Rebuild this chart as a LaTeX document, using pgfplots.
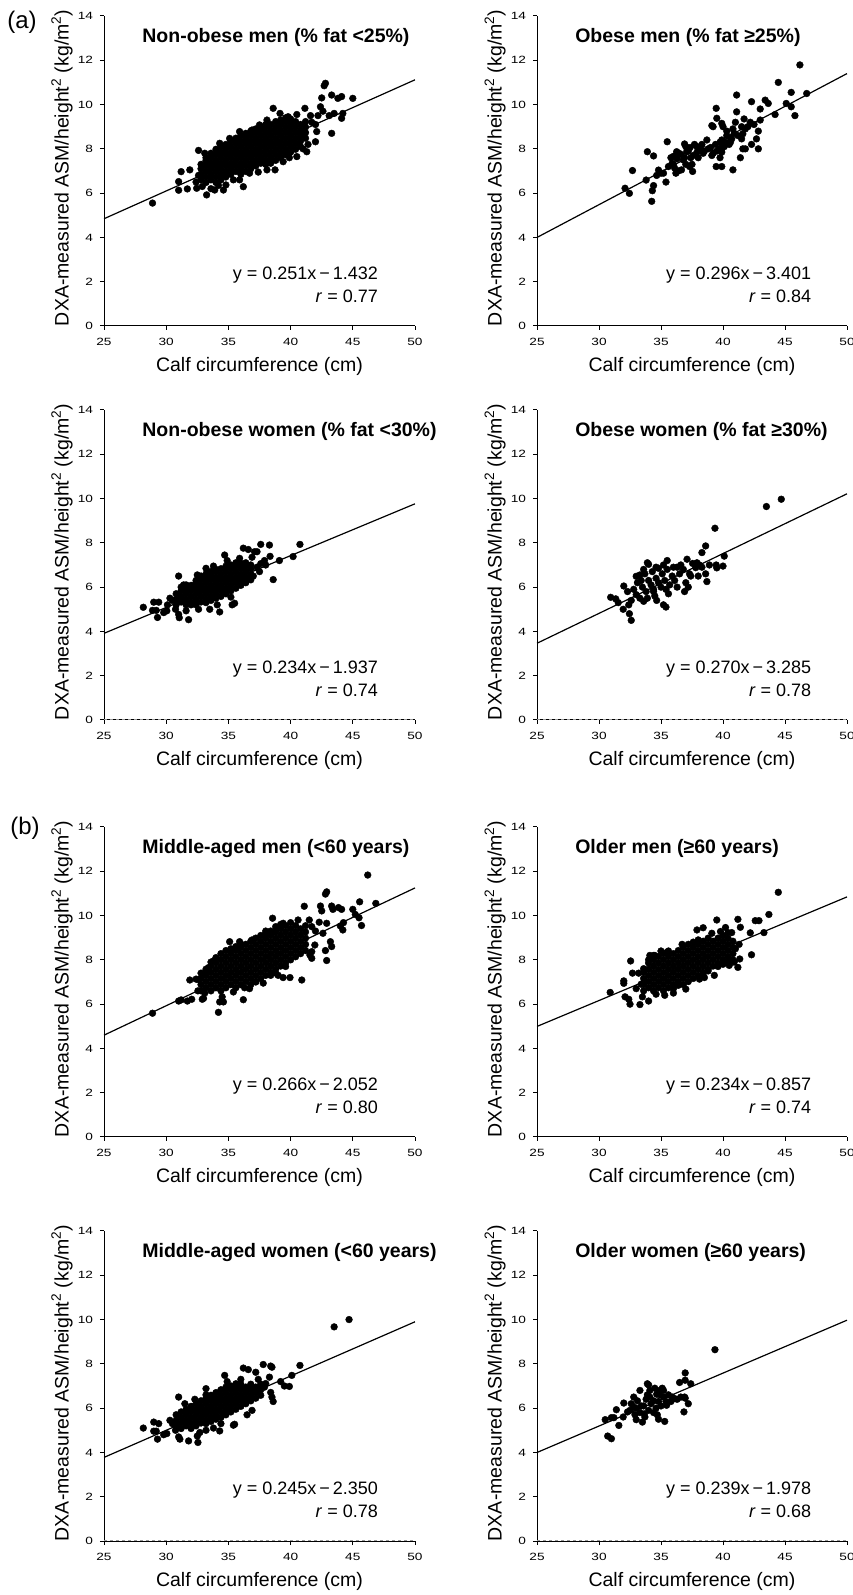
\documentclass[border=0pt]{standalone}
\usepackage{fontspec}
\setmainfont{Liberation Sans}
\newfontfamily\tickfont[FakeStretch=1.3]{Liberation Sans}
\usepackage{pgfplots}
\pgfplotsset{compat=1.18}

\pgfplotsset{
  panel/.style={
    width=311pt, height=310pt, scale only axis,
    xmin=25, xmax=50, ymin=0, ymax=14,
    axis x line=bottom, axis y line=left,
    axis line style={-, line width=1pt},
    xtick={25,30,35,40,45,50}, ytick={0,2,4,6,8,10,12,14},
    tick align=outside, major tick length=4pt,
    every tick/.style={black, line width=1pt},
    /pgf/number format/assume math mode=true,
    tick label style={font=\tickfont\fontsize{10.5}{10.5}\selectfont},
    yticklabel style={xshift=-3.5pt},
    xticklabel style={yshift=-5pt},
    xlabel={Calf circumference (cm)},
    ylabel={DXA-measured ASM/height\textsuperscript{2} (kg/m\textsuperscript{2})},
    label style={font=\fontsize{19.5}{20}\selectfont},
    xlabel style={at={(axis description cs:0.5,-0.132)}, anchor=center},
    ylabel style={at={(axis description cs:-0.135,0.51)}, anchor=center},
    clip=false,
  },
  dots/.style={only marks, mark=*, mark size=3.4pt, black, mark options={fill=black, draw=black}},
  fit/.style={black, line width=1.2pt, no marks},
  zero/.style={gray!80, dashed, line width=1pt, no marks},
}
\newcommand{\ttl}[1]{\node[anchor=base west, font=\bfseries\fontsize{19.5}{20}\selectfont] at (axis cs:27.8,12.8) {#1};}
\newcommand{\eqn}[3]{%
  \node[anchor=base east, font=\fontsize{18}{20}\selectfont] at (axis cs:#3,2.08) {y = #1};
  \node[anchor=base east, font=\fontsize{18}{20}\selectfont] at (axis cs:#3,1.08) {\textit{r} = #2};}

\begin{document}
\begin{tikzpicture}
\useasboundingbox (0,0) rectangle (852pt,1595pt);
\node[font=\fontsize{24}{24}\selectfont] at (22pt,1573pt) {(a)};
\node[font=\fontsize{24}{24}\selectfont] at (25pt,767pt) {(b)};

% ---- Non-obese men
\begin{axis}[panel, at={(104pt,1269pt)}, anchor=south west]
\addplot[dots] coordinates {
(32.8,6.6)(32.8,6.85)(32.8,7.1)(32.8,7.3)
(33.2,6.48)(33.2,6.73)(33.2,6.98)(33.2,7.23)(33.2,7.48)(33.2,7.6)
(33.6,6.6)(33.6,6.85)(33.6,7.1)(33.6,7.35)(33.6,7.6)(33.6,7.8)
(34.0,6.48)(34.0,6.73)(34.0,6.98)(34.0,7.23)(34.0,7.48)(34.0,7.73)(34.0,7.98)
(34.4,6.6)(34.4,6.85)(34.4,7.1)(34.4,7.35)(34.4,7.6)(34.4,7.85)(34.4,8.1)
(34.8,6.73)(34.8,6.98)(34.8,7.23)(34.8,7.48)(34.8,7.73)(34.8,7.98)(34.8,8.2)
(35.2,6.85)(35.2,7.1)(35.2,7.35)(35.2,7.6)(35.2,7.85)(35.2,8.1)(35.2,8.35)
(35.6,6.98)(35.6,7.23)(35.6,7.48)(35.6,7.73)(35.6,7.98)(35.6,8.23)(35.6,8.48)
(36.0,6.85)(36.0,7.1)(36.0,7.35)(36.0,7.6)(36.0,7.85)(36.0,8.1)(36.0,8.35)(36.0,8.6)
(36.4,6.98)(36.4,7.23)(36.4,7.48)(36.4,7.73)(36.4,7.98)(36.4,8.23)(36.4,8.48)(36.4,8.7)
(36.8,7.1)(36.8,7.35)(36.8,7.6)(36.8,7.85)(36.8,8.1)(36.8,8.35)(36.8,8.6)(36.8,8.8)
(37.2,7.23)(37.2,7.48)(37.2,7.73)(37.2,7.98)(37.2,8.23)(37.2,8.48)(37.2,8.73)(37.2,8.9)
(37.6,7.35)(37.6,7.6)(37.6,7.85)(37.6,8.1)(37.6,8.35)(37.6,8.6)(37.6,8.85)(37.6,9.0)
(38.0,7.3)(38.0,7.48)(38.0,7.73)(38.0,7.98)(38.0,8.23)(38.0,8.48)(38.0,8.73)(38.0,8.98)(38.0,9.1)
(38.4,7.35)(38.4,7.6)(38.4,7.85)(38.4,8.1)(38.4,8.35)(38.4,8.6)(38.4,8.85)(38.4,9.1)
(38.8,7.48)(38.8,7.73)(38.8,7.98)(38.8,8.23)(38.8,8.48)(38.8,8.73)(38.8,8.98)(38.8,9.23)
(39.2,7.6)(39.2,7.85)(39.2,8.1)(39.2,8.35)(39.2,8.6)(39.2,8.85)(39.2,9.1)(39.2,9.3)
(39.6,7.73)(39.6,7.98)(39.6,8.23)(39.6,8.48)(39.6,8.73)(39.6,8.98)(39.6,9.23)(39.6,9.4)
(40.0,7.85)(40.0,8.1)(40.0,8.35)(40.0,8.6)(40.0,8.85)(40.0,9.1)(40.0,9.35)
(40.4,7.98)(40.4,8.23)(40.4,8.48)(40.4,8.73)(40.4,8.98)(40.4,9.23)
(40.8,8.1)(40.8,8.35)(40.8,8.6)(40.8,8.85)(40.8,9.1)
(41.2,8.48)(41.2,8.73)(41.2,8.98)(41.2,9.23)
(28.9,5.55)(31.0,6.52)(31.0,6.13)(31.7,6.19)(31.9,7.05)(31.2,6.97)(32.6,7.93)(32.45,6.22)
(32.4,6.5)(32.6,6.8)(32.9,6.3)(33.25,5.92)(33.6,6.2)(33.9,6.14)(34.6,6.14)(34.8,6.37)
(35.4,6.6)(36.2,6.29)(36.7,6.9)(38.1,7.05)(38.75,7.05)(39.4,7.42)(40.5,7.65)(41.3,7.87)
(42.0,8.32)(42.1,8.78)(43.3,8.7)(44.1,9.38)(44.2,9.6)(45.0,10.28)(44.1,10.36)(43.8,10.28)
(43.3,10.43)(42.8,10.96)(42.7,10.85)(42.5,10.3)(42.4,9.9)(42.2,9.5)(42.6,9.7)(43.1,9.5)
(43.5,9.6)(41.15,9.83)(41.6,9.5)(42.0,9.1)(41.7,9.2)(39.8,9.45)(39.15,9.6)(38.6,9.83)
(38.1,9.3)(37.5,9.08)(36.9,8.85)(35.9,8.78)(35.1,8.47)(34.3,8.25)(33.1,7.8)(40.5,9.55)
(41.4,8.2)(41.0,8.0)(39.9,7.6)(37.4,6.95)(35.9,6.6)(34.2,6.35)
};
\addplot[fit] coordinates {(25,4.843) (50,11.118)};
\ttl{Non-obese men (\% fat <25\%)}
\eqn{0.251x\,−\,1.432}{0.77}{47.3}
\end{axis}

% ---- Obese men
\begin{axis}[panel, width=310pt, at={(537pt,1269pt)}, anchor=south west]
\addplot[dots] coordinates {
(32.1,6.22)(32.45,5.99)(32.7,7.02)(33.9,7.87)(33.8,6.59)(34.4,7.68)(34.25,5.63)(34.3,6.11)
(34.4,6.34)(34.8,7.04)(34.65,6.8)(35.5,8.32)(35.4,6.5)(35.2,6.9)(35.9,7.35)(36.0,7.66)
(36.1,7.13)(36.26,7.87)(36.45,7.8)(36.8,7.5)(36.65,7.05)(36.9,8.22)(37.07,7.87)(37.4,7.6)
(37.5,7.3)(37.55,6.98)(37.35,8.06)(37.9,8.1)(38.1,7.95)(38.4,7.8)(38.7,8.4)(39.0,8.06)
(39.2,7.8)(39.5,7.9)(39.2,9.0)(39.45,9.83)(39.5,9.38)(39.1,9.05)(39.45,7.2)(39.9,7.2)
(39.76,7.6)(39.76,8.3)(39.9,8.0)(40.0,8.15)(39.9,9.15)(40.0,9.0)(40.3,8.6)(40.6,8.3)
(40.7,8.45)(40.8,7.05)(41.1,10.43)(41.1,9.67)(41.4,7.6)(41.5,8.45)(41.6,8.68)(41.7,9.35)
(41.6,8.0)(41.8,8.0)(42.0,9.0)(42.3,10.13)(42.3,8.2)(42.7,8.45)(42.85,8.0)(43.0,9.8)
(43.0,9.3)(42.85,8.8)(43.4,10.2)(43.65,10.05)(44.2,9.55)(44.46,11.0)(45.1,10.05)(45.5,10.55)
(45.5,9.9)(45.8,9.5)(46.2,11.79)(46.75,10.5)
(36.0,7.3)(36.3,7.55)(36.6,7.75)(36.9,7.6)(37.2,7.9)(37.0,8.1)(37.6,7.7)(37.7,8.2)
(38.2,8.1)(38.5,7.9)(38.8,8.0)(39.1,7.7)(39.4,8.2)(39.7,8.0)(39.9,8.4)(40.2,8.3)
(40.3,8.8)(40.6,8.5)(40.9,8.7)(41.2,8.6)(41.5,9.0)(41.8,8.9)(42.2,9.2)(42.5,9.1)
(36.4,7.0)(36.2,6.9)(35.8,7.6)(35.6,7.2)(35.0,6.9)(37.3,7.2)(38.0,7.6)(37.9,7.85)
(39.9,7.85)(40.1,8.1)(40.5,8.2)(40.8,8.9)(41.0,9.2)(38.3,8.2)(37.0,7.3)
};
\addplot[fit] coordinates {(25,3.999) (50,11.399)};
\ttl{Obese men (\% fat ≥25\%)}
\eqn{0.296x\,−\,3.401}{0.84}{47.4}
\end{axis}

% ---- Non-obese women
\begin{axis}[panel, at={(104pt,875pt)}, anchor=south west]
\addplot[zero] coordinates {(25,0.03) (50,0.03)};
\addplot[dots] coordinates {
(30.8,5.2)(30.8,5.45)(30.8,5.7)
(31.2,5.33)(31.2,5.58)(31.2,5.83)(31.2,6.0)
(31.6,5.2)(31.6,5.45)(31.6,5.7)(31.6,5.95)(31.6,6.1)
(32.0,5.2)(32.0,5.33)(32.0,5.58)(32.0,5.83)(32.0,6.08)
(32.4,5.2)(32.4,5.45)(32.4,5.7)(32.4,5.95)(32.4,6.2)(32.4,6.3)
(32.8,5.33)(32.8,5.58)(32.8,5.83)(32.8,6.08)(32.8,6.33)(32.8,6.5)
(33.2,5.3)(33.2,5.45)(33.2,5.7)(33.2,5.95)(33.2,6.2)(33.2,6.45)(33.2,6.6)
(33.6,5.4)(33.6,5.58)(33.6,5.83)(33.6,6.08)(33.6,6.33)(33.6,6.58)(33.6,6.7)
(34.0,5.5)(34.0,5.7)(34.0,5.95)(34.0,6.2)(34.0,6.45)(34.0,6.7)(34.0,6.8)
(34.4,5.58)(34.4,5.83)(34.4,6.08)(34.4,6.33)(34.4,6.58)(34.4,6.83)
(34.8,5.7)(34.8,5.95)(34.8,6.2)(34.8,6.45)(34.8,6.7)(34.8,6.95)
(35.2,5.83)(35.2,6.08)(35.2,6.33)(35.2,6.58)(35.2,6.83)(35.2,7.0)
(35.6,5.95)(35.6,6.2)(35.6,6.45)(35.6,6.7)(35.6,6.95)(35.6,7.1)
(36.0,6.08)(36.0,6.33)(36.0,6.58)(36.0,6.83)(36.0,7.08)
(36.4,6.2)(36.4,6.45)(36.4,6.7)(36.4,6.95)(36.4,7.1)
(36.8,6.33)(36.8,6.58)(36.8,6.83)(36.8,7.0)
(28.16,5.09)(29.0,5.32)(29.4,5.32)(28.9,4.95)(29.2,4.95)(29.3,4.63)(29.8,4.85)(30.05,4.93)
(30.3,5.5)(31.0,6.5)(30.75,5.0)(31.0,4.77)(31.05,4.62)(31.8,4.53)(31.6,4.93)(33.2,6.85)
(33.5,5.0)(34.3,4.88)(34.7,7.45)(35.3,5.2)(35.5,5.27)(36.2,7.76)(36.6,7.7)(37.1,7.6)
(37.3,7.6)(37.6,7.93)(38.3,7.9)(38.35,7.39)(37.9,7.2)(37.6,7.06)(38.6,6.34)(39.1,7.2)
(40.2,7.38)(40.75,7.93)(30.5,5.4)(30.1,5.2)(31.4,6.1)(32.5,6.55)(34.9,7.2)(35.9,7.3)
(37.3,6.9)(37.0,6.5)(37.5,6.7)(35.2,5.55)(34.1,5.2)(32.6,5.0)(33.8,6.95)(36.9,7.35)(38.0,7.0)
};
\addplot[fit] coordinates {(25,3.913) (50,9.763)};
\ttl{Non-obese women (\% fat <30\%)}
\eqn{0.234x\,−\,1.937}{0.74}{47.3}
\end{axis}

% ---- Obese women
\begin{axis}[panel, width=310pt, at={(537pt,875pt)}, anchor=south west]
\addplot[zero] coordinates {(25,0.03) (50,0.03)};
\addplot[dots] coordinates {
(30.94,5.54)(31.35,5.47)(31.55,5.3)(31.95,5.0)(32.0,6.05)(32.4,5.2)(32.45,4.8)(32.6,4.5)
(32.3,5.8)(33.0,6.49)(33.3,6.55)(33.6,6.8)(33.9,7.1)(34.0,7.03)(33.0,5.66)(33.3,5.5)
(33.6,5.36)(34.4,5.8)(34.65,5.4)(35.2,5.2)(35.4,5.1)(35.5,7.2)(36.3,6.9)(37.1,7.26)
(37.55,7.07)(37.8,6.88)(37.4,6.5)(38.0,6.5)(38.6,6.6)(38.3,7.56)(38.6,7.86)(38.7,6.25)
(38.9,7.0)(39.35,8.66)(39.45,7.0)(39.5,6.87)(40.0,6.95)(40.1,7.4)(43.5,9.64)(44.7,9.97)
(33.5,6.0)(33.8,5.8)(34.0,6.3)(34.2,6.1)(34.4,5.9)(34.6,6.4)(34.8,6.2)(35.0,6.0)
(35.1,6.6)(35.3,6.3)(35.5,6.8)(35.7,6.1)(35.9,6.5)(36.1,6.3)(36.3,6.0)(36.5,6.6)
(36.8,6.8)(37.0,6.2)(37.2,6.0)(36.9,5.8)(34.3,6.7)(34.8,6.85)(35.2,7.0)(33.4,6.3)
(33.9,5.5)(34.5,5.6)(35.6,5.7)(33.7,6.6)(34.6,6.9)(36.0,6.9)(35.4,5.9)(32.8,5.9)
(33.1,6.2)(32.6,5.4)(36.6,7.0)(37.3,6.6)(38.1,7.0)(38.3,6.9)(37.9,7.1)
};
\addplot[fit] coordinates {(25,3.465) (50,10.215)};
\ttl{Obese women (\% fat ≥30\%)}
\eqn{0.270x\,−\,3.285}{0.78}{47.4}
\end{axis}

% ---- Middle-aged men
\begin{axis}[panel, at={(104pt,458pt)}, anchor=south west]
\addplot[dots] coordinates {
(32.8,6.6)(32.8,6.88)(32.8,7.16)(32.8,7.4)
(33.2,6.74)(33.2,7.02)(33.2,7.3)(33.2,7.58)
(33.6,6.6)(33.6,6.88)(33.6,7.16)(33.6,7.44)(33.6,7.72)(33.6,7.9)
(34.0,6.74)(34.0,7.02)(34.0,7.3)(34.0,7.58)(34.0,7.86)(34.0,8.1)
(34.4,6.6)(34.4,6.88)(34.4,7.16)(34.4,7.44)(34.4,7.72)(34.4,8.0)(34.4,8.28)
(34.8,6.74)(34.8,7.02)(34.8,7.3)(34.8,7.58)(34.8,7.86)(34.8,8.14)(34.8,8.42)
(35.2,6.88)(35.2,7.16)(35.2,7.44)(35.2,7.72)(35.2,8.0)(35.2,8.28)(35.2,8.5)
(35.6,6.74)(35.6,7.02)(35.6,7.3)(35.6,7.58)(35.6,7.86)(35.6,8.14)(35.6,8.42)(35.6,8.6)
(36.0,6.88)(36.0,7.16)(36.0,7.44)(36.0,7.72)(36.0,8.0)(36.0,8.28)(36.0,8.56)(36.0,8.7)
(36.4,7.02)(36.4,7.3)(36.4,7.58)(36.4,7.86)(36.4,8.14)(36.4,8.42)(36.4,8.7)
(36.8,6.88)(36.8,7.16)(36.8,7.44)(36.8,7.72)(36.8,8.0)(36.8,8.28)(36.8,8.56)(36.8,8.84)
(37.2,7.02)(37.2,7.3)(37.2,7.58)(37.2,7.86)(37.2,8.14)(37.2,8.42)(37.2,8.7)(37.2,8.98)
(37.6,7.16)(37.6,7.44)(37.6,7.72)(37.6,8.0)(37.6,8.28)(37.6,8.56)(37.6,8.84)(37.6,9.1)
(38.0,7.3)(38.0,7.58)(38.0,7.86)(38.0,8.14)(38.0,8.42)(38.0,8.7)(38.0,8.98)(38.0,9.2)
(38.4,7.3)(38.4,7.44)(38.4,7.72)(38.4,8.0)(38.4,8.28)(38.4,8.56)(38.4,8.84)(38.4,9.12)(38.4,9.3)
(38.8,7.4)(38.8,7.58)(38.8,7.86)(38.8,8.14)(38.8,8.42)(38.8,8.7)(38.8,8.98)(38.8,9.26)(38.8,9.5)
(39.2,7.72)(39.2,8.0)(39.2,8.28)(39.2,8.56)(39.2,8.84)(39.2,9.12)(39.2,9.4)(39.2,9.6)
(39.6,7.7)(39.6,7.86)(39.6,8.14)(39.6,8.42)(39.6,8.7)(39.6,8.98)(39.6,9.26)(39.6,9.54)
(40.0,8.0)(40.0,8.28)(40.0,8.56)(40.0,8.84)(40.0,9.12)(40.0,9.4)(40.0,9.68)
(40.4,8.14)(40.4,8.42)(40.4,8.7)(40.4,8.98)(40.4,9.26)(40.4,9.54)
(40.8,8.28)(40.8,8.56)(40.8,8.84)(40.8,9.12)(40.8,9.4)
(41.2,8.42)(41.2,8.7)(41.2,8.98)(41.2,9.26)(41.2,9.54)
(28.9,5.59)(31.0,6.14)(31.2,6.19)(31.7,6.14)(32.05,6.22)(31.9,7.09)(32.4,7.13)(32.6,7.1)
(32.55,6.6)(32.9,6.22)(33.1,6.5)(33.2,7.5)(33.4,7.65)(33.0,6.26)(33.8,7.95)(34.2,5.63)
(34.3,6.1)(34.6,6.1)(34.5,6.33)(35.1,8.82)(35.4,6.55)(36.2,6.2)(36.3,6.74)(35.9,8.82)
(35.8,8.52)(36.9,8.9)(38.55,9.88)(39.4,9.65)(39.4,7.2)(39.95,7.2)(40.9,7.09)(41.1,10.42)
(41.7,8.07)(41.7,8.37)(41.95,8.67)(41.55,8.22)(41.7,9.5)(42.5,10.21)(42.4,10.43)(42.8,10.97)
(42.9,11.07)(42.9,9.65)(42.8,8.42)(42.9,7.97)(43.2,8.82)(43.3,8.6)(43.3,10.43)(43.4,10.28)
(43.85,10.36)(44.1,10.28)(44.0,9.53)(44.25,9.68)(44.2,9.35)(45.0,10.28)(45.2,10.05)
(45.55,10.62)(45.5,9.9)(45.7,9.55)(46.2,11.83)(46.85,10.55)(42.0,9.3)(42.3,9.7)(41.5,9.8)
(42.6,9.2)(40.6,9.8)(38.0,9.3)(37.2,7.0)(39.0,7.3)(37.8,6.95)(36.7,6.7)
};
\addplot[fit] coordinates {(25,4.598) (50,11.248)};
\ttl{Middle-aged men (<60 years)}
\eqn{0.266x\,−\,2.052}{0.80}{47.3}
\end{axis}

% ---- Older men
\begin{axis}[panel, width=310pt, at={(537pt,458pt)}, anchor=south west]
\addplot[dots] coordinates {
(33.6,6.6)(33.6,6.88)(33.6,7.16)(33.6,7.44)(33.6,7.6)
(34.0,6.74)(34.0,7.02)(34.0,7.3)(34.0,7.58)(34.0,7.86)(34.0,8.0)
(34.4,6.6)(34.4,6.88)(34.4,7.16)(34.4,7.44)(34.4,7.72)(34.4,8.0)
(34.8,6.74)(34.8,7.02)(34.8,7.3)(34.8,7.58)(34.8,7.86)(34.8,8.14)
(35.2,6.6)(35.2,6.88)(35.2,7.16)(35.2,7.44)(35.2,7.72)(35.2,8.0)(35.2,8.28)
(35.6,6.74)(35.6,7.02)(35.6,7.3)(35.6,7.58)(35.6,7.86)(35.6,8.14)(35.6,8.4)
(36.0,6.7)(36.0,6.88)(36.0,7.16)(36.0,7.44)(36.0,7.72)(36.0,8.0)(36.0,8.28)
(36.4,6.85)(36.4,7.02)(36.4,7.3)(36.4,7.58)(36.4,7.86)(36.4,8.14)(36.4,8.42)
(36.8,6.88)(36.8,7.16)(36.8,7.44)(36.8,7.72)(36.8,8.0)(36.8,8.28)(36.8,8.56)
(37.2,7.02)(37.2,7.3)(37.2,7.58)(37.2,7.86)(37.2,8.14)(37.2,8.42)(37.2,8.7)
(37.6,7.16)(37.6,7.44)(37.6,7.72)(37.6,8.0)(37.6,8.28)(37.6,8.56)(37.6,8.8)
(38.0,7.3)(38.0,7.58)(38.0,7.86)(38.0,8.14)(38.0,8.42)(38.0,8.7)(38.0,8.9)
(38.4,7.3)(38.4,7.44)(38.4,7.72)(38.4,8.0)(38.4,8.28)(38.4,8.56)(38.4,8.84)
(38.8,7.58)(38.8,7.86)(38.8,8.14)(38.8,8.42)(38.8,8.7)(38.8,8.98)
(39.2,7.72)(39.2,8.0)(39.2,8.28)(39.2,8.56)(39.2,8.84)
(39.6,7.7)(39.6,7.86)(39.6,8.14)(39.6,8.42)(39.6,8.7)(39.6,8.98)
(40.0,7.8)(40.0,8.0)(40.0,8.28)(40.0,8.56)(40.0,8.84)(40.0,9.1)
(40.4,7.9)(40.4,8.14)(40.4,8.42)(40.4,8.7)(40.4,8.98)
(40.8,8.0)(40.8,8.28)(40.8,8.56)(40.8,8.84)
(30.9,6.53)(32.0,7.05)(32.0,6.94)(32.55,7.95)(32.1,6.33)(32.4,6.22)(32.5,6.0)(33.3,5.98)
(33.5,6.33)(34.0,6.14)(32.7,7.4)(33.2,7.4)(33.0,6.7)(33.4,6.9)(34.1,8.2)(34.4,8.2)
(34.5,8.2)(35.5,8.35)(37.0,6.68)(37.9,9.35)(38.4,9.45)(39.5,9.8)(38.8,7.5)(38.5,7.2)
(38.1,7.13)(39.8,9.28)(40.2,9.46)(40.4,9.23)(40.7,9.23)(41.2,9.83)(41.4,9.47)(41.2,7.66)
(41.35,8.04)(41.0,8.5)(41.3,8.7)(40.9,7.9)(40.5,7.75)(42.2,9.22)(42.3,8.23)(42.6,9.77)
(42.9,9.77)(43.3,9.23)(43.7,10.05)(44.46,11.05)(34.6,6.45)(35.3,6.4)(36.0,6.5)(35.0,8.4)
(36.7,8.7)(39.1,9.2)(39.3,7.3)
};
\addplot[fit] coordinates {(25,4.993) (50,10.843)};
\ttl{Older men (≥60 years)}
\eqn{0.234x\,−\,0.857}{0.74}{47.4}
\end{axis}

% ---- Middle-aged women
\begin{axis}[panel, at={(104pt,54pt)}, anchor=south west]
\addplot[zero] coordinates {(25,0.03) (50,0.03)};
\addplot[dots] coordinates {
(30.8,5.2)(30.8,5.45)(30.8,5.7)
(31.2,5.08)(31.2,5.33)(31.2,5.58)(31.2,5.83)
(31.6,5.2)(31.6,5.45)(31.6,5.7)(31.6,5.95)
(32.0,5.08)(32.0,5.33)(32.0,5.58)(32.0,5.83)(32.0,6.08)
(32.4,5.2)(32.4,5.45)(32.4,5.7)(32.4,5.95)(32.4,6.2)
(32.8,5.33)(32.8,5.58)(32.8,5.83)(32.8,6.08)(32.8,6.33)
(33.2,5.3)(33.2,5.45)(33.2,5.7)(33.2,5.95)(33.2,6.2)(33.2,6.45)(33.2,6.6)
(33.6,5.4)(33.6,5.58)(33.6,5.83)(33.6,6.08)(33.6,6.33)(33.6,6.58)
(34.0,5.5)(34.0,5.7)(34.0,5.95)(34.0,6.2)(34.0,6.45)(34.0,6.7)
(34.4,5.58)(34.4,5.83)(34.4,6.08)(34.4,6.33)(34.4,6.58)(34.4,6.83)
(34.8,5.7)(34.8,5.95)(34.8,6.2)(34.8,6.45)(34.8,6.7)(34.8,6.95)
(35.2,5.83)(35.2,6.08)(35.2,6.33)(35.2,6.58)(35.2,6.83)(35.2,7.0)
(35.6,5.95)(35.6,6.2)(35.6,6.45)(35.6,6.7)(35.6,6.95)(35.6,7.1)
(36.0,6.08)(36.0,6.33)(36.0,6.58)(36.0,6.83)(36.0,7.08)
(36.4,6.2)(36.4,6.45)(36.4,6.7)(36.4,6.95)
(36.8,6.33)(36.8,6.58)(36.8,6.83)(36.8,7.08)
(37.2,6.45)(37.2,6.7)(37.2,6.95)
(37.6,6.58)(37.6,6.83)(37.6,7.08)
(28.16,5.1)(29.0,5.37)(29.4,5.3)(29.0,4.96)(29.2,4.96)(29.3,4.6)(29.8,4.8)(30.05,4.85)
(30.3,5.45)(31.0,6.5)(30.75,5.0)(31.0,4.7)(31.1,4.6)(31.8,4.52)(32.5,4.74)(32.55,4.45)
(33.2,6.88)(34.3,4.97)(34.7,7.48)(35.4,5.23)(35.5,5.27)(36.2,7.81)(36.6,7.74)(37.2,7.62)
(36.5,5.7)(37.8,7.97)(38.4,7.9)(38.5,7.85)(38.3,7.4)(38.0,7.11)(38.5,6.5)(38.6,6.3)
(38.4,6.71)(39.2,7.2)(39.5,7.0)(39.9,6.98)(40.1,7.48)(40.75,7.93)(43.5,9.67)(44.7,10.0)
(30.5,5.3)(31.5,6.2)(32.3,6.4)(34.9,7.2)(36.0,7.3)(37.4,7.3)(37.9,6.95)(36.9,5.9)
(33.8,5.1)(34.4,5.3)(32.7,4.9)(33.2,5.0)
};
\addplot[fit] coordinates {(25,3.775) (50,9.9)};
\ttl{Middle-aged women (<60 years)}
\eqn{0.245x\,−\,2.350}{0.78}{47.3}
\end{axis}

% ---- Older women
\begin{axis}[panel, width=310pt, at={(537pt,54pt)}, anchor=south west]
\addplot[zero] coordinates {(25,0.03) (50,0.03)};
\addplot[dots] coordinates {
(30.5,5.48)(30.7,4.74)(31.0,4.62)(31.0,5.57)(31.2,5.57)(31.4,5.93)(31.6,5.22)(32.0,6.23)
(31.95,5.6)(32.3,5.83)(32.5,5.9)(32.8,6.05)(32.8,6.5)(33.1,6.33)(33.0,5.48)(33.5,5.37)
(33.65,5.74)(33.3,6.8)(33.9,7.1)(34.0,7.05)(34.1,6.5)(34.4,6.33)(34.65,6.63)(34.9,6.8)
(34.8,5.5)(35.2,6.8)(35.3,5.4)(35.45,6.13)(35.9,6.5)(36.1,6.43)(36.5,7.16)(36.85,5.83)
(36.9,6.5)(36.95,6.45)(36.95,7.59)(36.95,7.26)(37.2,6.2)(37.4,7.1)(39.35,8.64)
(32.6,6.2)(33.0,6.0)(33.3,5.8)(33.6,6.1)(33.8,6.4)(34.0,5.9)(34.2,6.2)(34.4,5.8)
(34.6,6.0)(34.8,6.3)(35.0,6.1)(35.2,6.5)(35.4,6.3)(35.6,6.6)(35.8,6.3)(34.1,6.8)
(34.5,6.9)(33.9,6.6)(33.4,6.1)(32.9,5.7)(35.1,6.9)(36.3,6.4)(36.6,6.5)(34.7,5.7)
(33.7,5.6)(34.9,6.6)
};
\addplot[fit] coordinates {(25,3.997) (50,9.972)};
\ttl{Older women (≥60 years)}
\eqn{0.239x\,−\,1.978}{0.68}{47.4}
\end{axis}
\end{tikzpicture}
\end{document}
